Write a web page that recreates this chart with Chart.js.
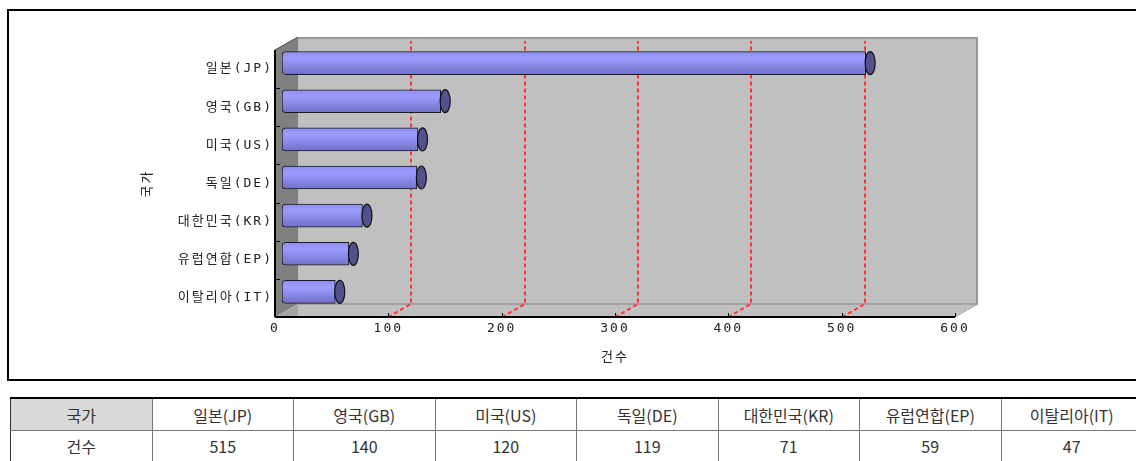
<!DOCTYPE html>
<html>
<head>
<meta charset="utf-8">
<script src="https://cdn.jsdelivr.net/npm/chart.js@4.4.0/dist/chart.umd.min.js"></script>
<style>
html, body { margin: 0; padding: 0; background: #fff; overflow: hidden; width: 1136px; height: 461px; }
#frame { position: absolute; left: 7px; top: 9px; width: 1140px; height: 368px; border: 2px solid #000; }
#chart { position: absolute; left: 0; top: 0; }
table { position: absolute; left: 10px; top: 397px; border-collapse: collapse; table-layout: fixed; width: 1133px;
        font-family: "Noto Sans CJK KR", sans-serif; font-size: 16px; color: #333; }
td { border: 1px solid #777; text-align: center; padding: 0; }
tr.head td { border-top: 2px solid #000; height: 31px; }
tr.vals td { height: 30px; }
td.first { border-left: 1px solid #333; }
tr.head td.first { background: #d9d9d9; }
</style>
</head>
<body>
<div id="frame"></div>
<canvas id="chart" width="1136" height="385"></canvas>
<table id="tbl"></table>
<script>
// data
const categories = ["일본(JP)", "영국(GB)", "미국(US)", "독일(DE)", "대한민국(KR)", "유럽연합(EP)", "이탈리아(IT)"];
const counts = [515, 140, 120, 119, 71, 59, 47];
const axisMin = 0;
const axisMax = 600;
const axisStep = 100;
const xTitle = "건수";
const yTitle = "국가";

// table under the chart
const tbl = document.getElementById("tbl");
const head = tbl.insertRow(); head.className = "head";
const vals = tbl.insertRow(); vals.className = "vals";
[yTitle, ...categories].forEach((t, i) => { const c = head.insertCell(); c.textContent = t; if (i === 0) c.className = "first"; });
[xTitle, ...counts].forEach((t, i) => { const c = vals.insertCell(); c.textContent = t; if (i === 0) c.className = "first"; });

// 3d box depth and bar offset into it
const DX = 23, DY = 13;
const SHIFT_X = 7, SHIFT_Y = -6;
const labelFont = { family: '"DejaVu Sans Mono", "Noto Sans CJK KR"', size: 13 };

function barFill(c) {
    const chart = c.chart;
    const ys = chart.scales.y;
    if (c.type !== "data" || !chart.chartArea || !ys) return "#9999ff";
    const yc = ys.getPixelForValue(c.dataIndex);
    const g = chart.ctx.createLinearGradient(0, yc - 11.5, 0, yc + 11.5);
    g.addColorStop(0, "#8e8eee");
    g.addColorStop(0.3, "#9c9cff");
    g.addColorStop(1, "#7070c6");
    return g;
}

function poly(ctx, pts, fill) {
    ctx.beginPath();
    pts.forEach((p, i) => i ? ctx.lineTo(p[0], p[1]) : ctx.moveTo(p[0], p[1]));
    ctx.closePath();
    ctx.fillStyle = fill;
    ctx.fill();
}

function line(ctx, x1, y1, x2, y2, color, w) {
    ctx.beginPath();
    ctx.moveTo(x1, y1);
    ctx.lineTo(x2, y2);
    ctx.strokeStyle = color;
    ctx.lineWidth = w;
    ctx.stroke();
}

const box3d = {
    id: "box3d",
    beforeUpdate(chart) { chart.ctx.letterSpacing = "2px"; },
    beforeDraw(chart) { chart.ctx.letterSpacing = "2px"; },
    beforeDatasetsDraw(chart) {
        const { ctx, chartArea: a, scales: { x, y } } = chart;
        const L = a.left, R = a.right, T = a.top, B = a.bottom;
        ctx.save();
        // walls and floor
        ctx.fillStyle = "#c0c0c0";
        ctx.fillRect(L + DX, T - DY, R - L, B - T);
        poly(ctx, [[L, T], [L + DX, T - DY], [L + DX, B - DY], [L, B]], "#808080");
        poly(ctx, [[L, B], [R, B], [R + DX, B - DY], [L + DX, B - DY]], "#c0c0c0");
        poly(ctx, [[L, B], [L + DX, B - DY], [L + DX, B]], "#a6a6a6");
        line(ctx, L + DX, T - DY + 1, R + DX, T - DY + 1, "#999", 2);
        line(ctx, R + DX - 1, T - DY, R + DX - 1, B - DY, "#999", 2);
        line(ctx, L + DX, B - DY, R + DX, B - DY, "#999", 1.5);
        line(ctx, R, B, R + DX, B - DY, "#aaa", 1);
        line(ctx, L, T, L + DX, T - DY, "#444", 1);

        // red dashed grid on back wall and floor
        ctx.setLineDash([4, 3]);
        x.ticks.forEach(t => {
            if (t.value <= axisMin || t.value >= axisMax) return;
            const px = Math.round(x.getPixelForValue(t.value));
            ctx.beginPath();
            ctx.moveTo(px, B);
            ctx.lineTo(px + DX, B - DY);
            ctx.lineTo(px + DX, T - DY + 4);
            ctx.strokeStyle = "#f33";
            ctx.lineWidth = 2;
            ctx.stroke();
        });
        ctx.setLineDash([]);

        // axes and ticks
        line(ctx, L, T, L, B, "#000", 2);
        line(ctx, L, B, R, B, "#000", 2);
        x.ticks.forEach(t => {
            const px = Math.round(x.getPixelForValue(t.value)) + 0.5;
            line(ctx, px, B, px, B - 4, "#000", 1);
        });
        for (let i = 0; i < categories.length - 1; i++) {
            const yb = Math.round((y.getPixelForValue(i) + y.getPixelForValue(i + 1)) / 2) + 0.5;
            line(ctx, L, yb, L + 5, yb, "#000", 1);
        }
        ctx.restore();

        // bars sit halfway into the box
        ctx.save();
        ctx.translate(SHIFT_X, SHIFT_Y);
    },
    afterDatasetsDraw(chart) {
        const ctx = chart.ctx;
        chart.getDatasetMeta(0).data.forEach(b => {
            ctx.beginPath();
            ctx.ellipse(b.x + 4.5, b.y, 5, b.height / 2, 0, 0, Math.PI * 2);
            ctx.fillStyle = "#51518c";
            ctx.fill();
            ctx.strokeStyle = "#111";
            ctx.lineWidth = 1.2;
            ctx.stroke();
        });
        ctx.restore();
    }
};

new Chart(document.getElementById("chart"), {
    type: "bar",
    data: {
        labels: categories,
        datasets: [{
            label: xTitle,
            data: counts,
            backgroundColor: barFill,
            borderColor: "#1a1a1a",
            borderWidth: 1,
            borderSkipped: false,
            borderRadius: { topLeft: 4, bottomLeft: 4, topRight: 0, bottomRight: 0 },
            barThickness: 23
        }]
    },
    options: {
        indexAxis: "y",
        responsive: false,
        animation: false,
        layout: { padding: { left: 0, top: 50, right: 181, bottom: 0 } },
        plugins: { legend: { display: false }, tooltip: { enabled: false } },
        scales: {
            x: {
                min: axisMin, max: axisMax,
                ticks: { stepSize: axisStep, color: "#222", font: labelFont, padding: 4 },
                grid: { display: false, drawTicks: false },
                border: { display: false },
                title: { display: true, text: xTitle, color: "#222", font: labelFont, padding: { top: 0, bottom: 20 } },
                afterFit: s => { s.height = 68; }
            },
            y: {
                ticks: { color: "#222", font: labelFont, padding: 2 },
                grid: { display: false, drawTicks: false },
                border: { display: false },
                title: { display: true, text: yTitle, color: "#222", font: labelFont, padding: { top: 140, bottom: 0 } },
                afterFit: s => { s.width = 275; }
            }
        }
    },
    plugins: [box3d]
});
</script>
</body>
</html>
